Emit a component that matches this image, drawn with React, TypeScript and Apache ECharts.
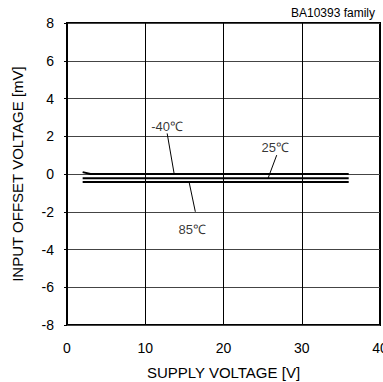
import React, { useEffect, useRef } from "react";
import * as echarts from "echarts";

const supplyVoltage = [2, 3, 5, 10, 15, 20, 25, 30, 36];
const offsetM40 = [0.1, 0.0, 0.0, 0.0, 0.0, 0.0, 0.0, 0.0, 0.0];
const offset25 = [-0.22, -0.22, -0.22, -0.22, -0.22, -0.22, -0.22, -0.22, -0.22];
const offset85 = [-0.42, -0.42, -0.42, -0.42, -0.42, -0.42, -0.42, -0.42, -0.42];

const labelNames = ["-40℃", "25℃", "85℃"];
const labelPos = [
  [12.8, 2.5],
  [26.6, 1.4],
  [16.0, -2.95],
];
const leaders = [
  [[12.8, 2.15], [13.7, 0.0]],
  [[26.8, 1.0], [25.7, -0.22]],
  [[15.6, -0.42], [16.4, -2.0]],
];

const FONT = "'Liberation Sans', Arial, sans-serif";

export default function App() {
  const ref = useRef<HTMLDivElement>(null);
  useEffect(() => {
    if (!ref.current) return;
    const chart = echarts.init(ref.current, null, { renderer: "svg" });
    const mk = (ys: number[]) => supplyVoltage.map((x, i) => [x, ys[i]]);
    const curveStyle = { color: "#000", width: 2 };
    const series: any[] = [
      { type: "line", data: mk(offsetM40), showSymbol: false, lineStyle: curveStyle, itemStyle: { color: "#000" } },
      { type: "line", data: mk(offset25), showSymbol: false, lineStyle: curveStyle, itemStyle: { color: "#000" } },
      { type: "line", data: mk(offset85), showSymbol: false, lineStyle: curveStyle, itemStyle: { color: "#000" } },
    ];
    leaders.forEach((seg) => {
      series.push({
        type: "line",
        data: seg,
        showSymbol: false,
        lineStyle: { color: "#000", width: 1 },
        itemStyle: { color: "#000" },
      });
    });
    series.push({
      type: "scatter",
      symbolSize: 0,
      data: labelPos.map((p, i) => ({ value: p, name: labelNames[i] })),
      label: {
        show: true,
        position: "inside",
        formatter: (p: any) => p.name,
        color: "#000",
        fontSize: 13,
        fontFamily: FONT,
      },
    });
    chart.setOption({
      animation: false,
      title: {
        text: "BA10393 family",
        right: 3,
        top: 2,
        textStyle: { fontSize: 12, fontWeight: "normal", color: "#000", fontFamily: FONT },
      },
      grid: {
        left: 67,
        right: 3,
        top: 23,
        bottom: 57,
        show: true,
        borderColor: "#000",
        borderWidth: 2,
        outerBoundsMode: "none",
        containLabel: false,
      },
      xAxis: {
        type: "value",
        min: 0,
        max: 40,
        interval: 10,
        name: "SUPPLY VOLTAGE [V]",
        nameLocation: "middle",
        nameGap: 40,
        nameTextStyle: { fontSize: 15, color: "#000", fontFamily: FONT },
        axisLine: { show: false },
        axisTick: { show: false },
        axisLabel: { fontSize: 14, color: "#000", fontFamily: FONT, margin: 16 },
        splitLine: { show: true, lineStyle: { color: "#000", width: 1 } },
      },
      yAxis: {
        type: "value",
        min: -8,
        max: 8,
        interval: 2,
        name: "INPUT OFFSET VOLTAGE [mV]",
        nameLocation: "middle",
        nameGap: 42,
        nameTextStyle: { fontSize: 15, color: "#000", fontFamily: FONT },
        axisLine: { show: false },
        axisTick: { show: true, inside: false, length: 3, lineStyle: { color: "#000" } },
        axisLabel: { fontSize: 14, color: "#000", fontFamily: FONT, margin: 13 },
        splitLine: { show: true, lineStyle: { color: "#444", width: 1 } },
      },
      series,
    });
    return () => chart.dispose();
  }, []);
  return <div ref={ref} style={{ width: 383, height: 382, position: "absolute", left: 0, top: 0 }} />;
}
